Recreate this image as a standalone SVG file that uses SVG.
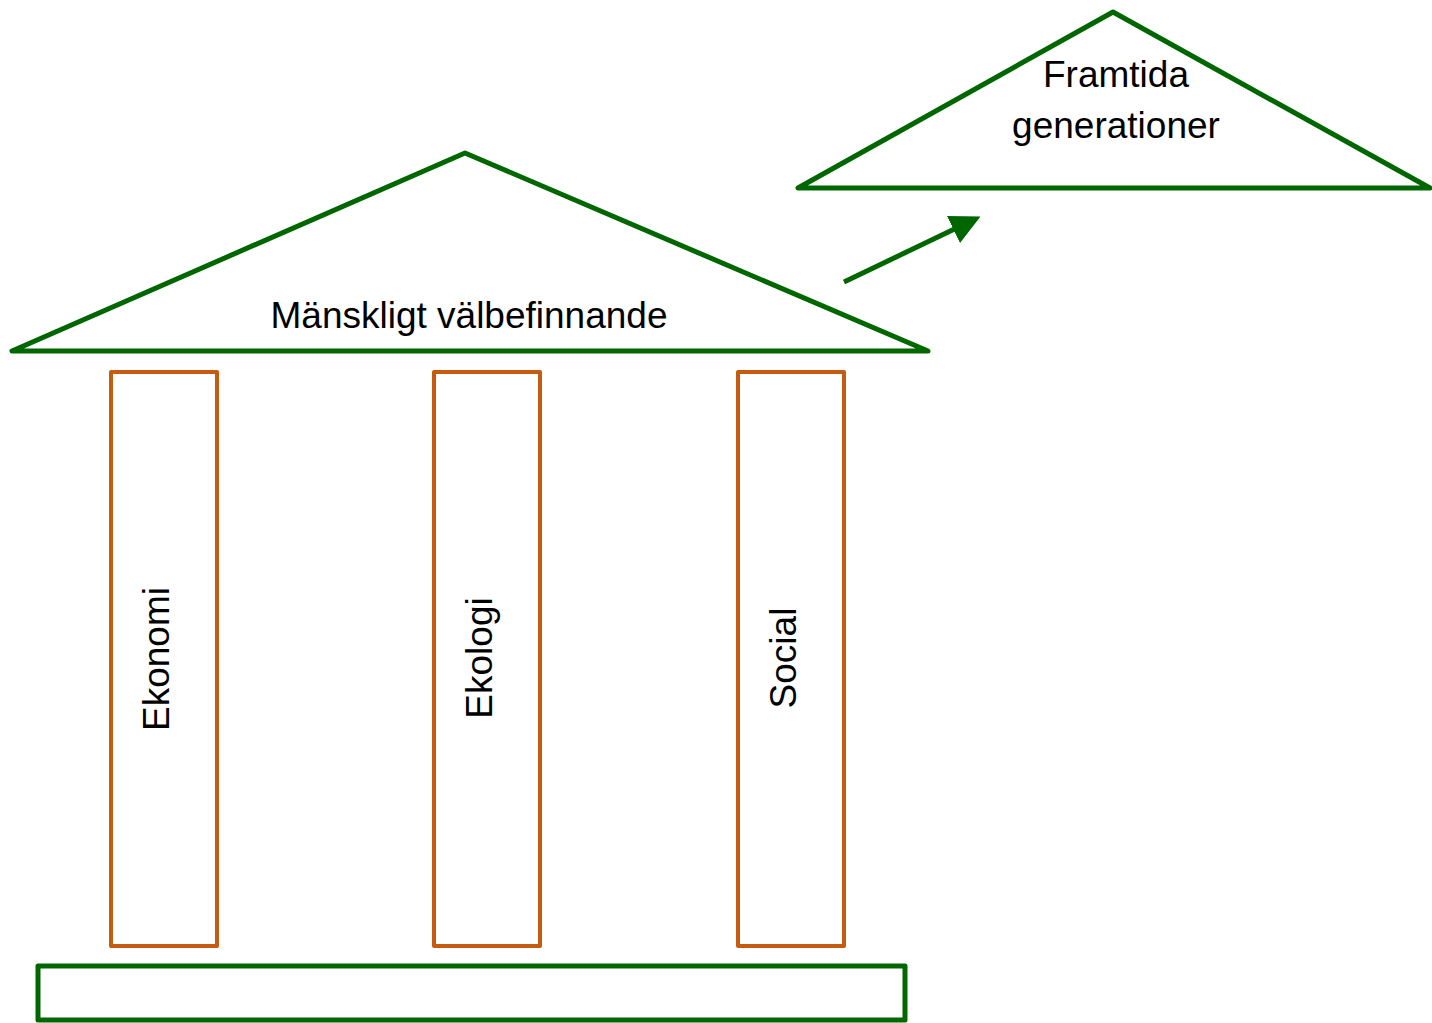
<svg xmlns="http://www.w3.org/2000/svg" width="1432" height="1023" viewBox="0 0 1432 1023">
<defs>
<style>
.g{fill:none;stroke:#006600;stroke-width:5;stroke-linejoin:round;stroke-linecap:round}
.o{fill:none;stroke:#C55A11;stroke-width:4;stroke-linejoin:round}
.t{font-family:"Liberation Sans",Arial,sans-serif;font-size:37px;fill:#000}
</style>
<marker id="ah" markerWidth="6" markerHeight="6" refX="3" refY="3" orient="auto" markerUnits="strokeWidth">
<path d="M0,0 L6,3 L0,6 Z" fill="#006600"/>
</marker>
</defs>
<rect width="1432" height="1023" fill="#fff"/>
<g id="roof">
<polygon class="g" points="465,153 12,351 928,351"/>
<text class="t" x="469" y="328" text-anchor="middle">Mänskligt välbefinnande</text>
</g>
<g id="future">
<polygon class="g" points="1113,12 798,188 1430,188"/>
<text class="t" x="1116" y="87" text-anchor="middle">Framtida</text>
<text class="t" x="1116" y="138" text-anchor="middle">generationer</text>
</g>
<g id="ekonomi">
<rect class="o" x="111" y="372" width="106" height="574"/>
<text class="t" transform="translate(169,659) rotate(-90)" text-anchor="middle">Ekonomi</text>
</g>
<g id="ekologi">
<rect class="o" x="434" y="372" width="106" height="574"/>
<text class="t" transform="translate(492,658) rotate(-90)" text-anchor="middle">Ekologi</text>
</g>
<g id="social">
<rect class="o" x="738" y="372" width="106" height="574"/>
<text class="t" transform="translate(796,658) rotate(-90)" text-anchor="middle">Social</text>
</g>
<g id="base">
<rect class="g" x="38" y="966" width="867" height="54"/>
</g>
<g id="connectors">
<line x1="844" y1="282" x2="967" y2="223" stroke="#006600" stroke-width="5" marker-end="url(#ah)"/>
</g>
</svg>
